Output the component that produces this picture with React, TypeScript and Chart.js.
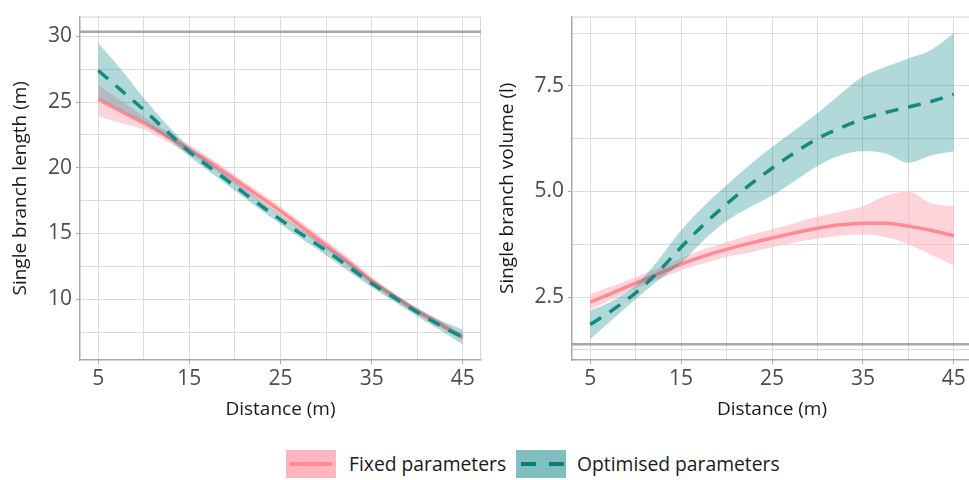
import React, { useEffect, useRef } from 'react';
import { Chart, registerables } from 'chart.js';
Chart.register(...registerables);

const FONT = "'Open Sans', 'DejaVu Sans', sans-serif";

// shared x positions (Distance, m)
const distance = [5, 7.5, 10, 12.5, 15, 17.5, 20, 22.5, 25, 27.5, 30, 32.5, 35, 37.5, 40, 42.5, 45];
const xGridValues = [5, 10, 15, 20, 25, 30, 35, 40, 45];
const xTickLabels = ['5', '15', '25', '35', '45'];

// Left panel: single branch length (m)
const lenFixed = [25.2, 24.3, 23.4, 22.4, 21.4, 20.3, 19.1, 17.9, 16.7, 15.4, 14.1, 12.8, 11.4, 10.2, 9.1, 8.1, 7.1];
const lenFixedLo = [23.9, 23.4, 22.9, 22.0, 21.05, 19.95, 18.75, 17.55, 16.35, 15.05, 13.75, 12.45, 11.1, 9.95, 8.85, 7.9, 6.9];
const lenFixedHi = [26.3, 25.1, 23.9, 22.8, 21.75, 20.65, 19.45, 18.25, 17.05, 15.75, 14.45, 13.15, 11.7, 10.45, 9.35, 8.35, 7.35];
const lenOpt = [27.4, 25.9, 24.4, 22.8, 21.2, 19.9, 18.6, 17.3, 16.05, 14.85, 13.7, 12.45, 11.2, 10.1, 9.0, 8.0, 7.1];
const lenOptLo = [25.3, 24.4, 23.5, 22.3, 20.85, 19.55, 18.25, 16.95, 15.7, 14.5, 13.35, 12.1, 10.9, 9.8, 8.7, 7.65, 6.55];
const lenOptHi = [29.5, 27.5, 25.3, 23.3, 21.55, 20.25, 18.95, 17.65, 16.4, 15.2, 14.05, 12.8, 11.5, 10.4, 9.3, 8.4, 7.7];
const lenRef = 30.35;
const lenGridValues = [7.5, 10, 12.5, 15, 17.5, 20, 22.5, 25, 27.5, 30];
const lenTickValues = [10, 15, 20, 25, 30];
const lenTickLabels = ['10', '15', '20', '25', '30'];

// Right panel: single branch volume (l)
const volFixed = [2.38, 2.6, 2.83, 3.05, 3.28, 3.47, 3.63, 3.77, 3.9, 4.02, 4.13, 4.21, 4.25, 4.25, 4.18, 4.08, 3.95];
const volFixedLo = [2.2, 2.45, 2.7, 2.92, 3.13, 3.3, 3.45, 3.55, 3.68, 3.8, 3.88, 3.95, 3.98, 3.92, 3.75, 3.5, 3.25];
const volFixedHi = [2.57, 2.76, 2.97, 3.18, 3.42, 3.63, 3.8, 3.97, 4.1, 4.25, 4.4, 4.52, 4.65, 4.9, 5.0, 4.72, 4.65];
const volOpt = [1.85, 2.2, 2.6, 3.1, 3.68, 4.22, 4.7, 5.15, 5.55, 5.92, 6.25, 6.5, 6.72, 6.87, 7.0, 7.13, 7.3];
const volOptLo = [1.5, 1.98, 2.45, 2.9, 3.3, 3.85, 4.3, 4.62, 4.9, 5.25, 5.6, 5.85, 5.95, 5.9, 5.68, 5.85, 5.95];
const volOptHi = [2.18, 2.42, 2.78, 3.38, 4.08, 4.65, 5.15, 5.62, 6.05, 6.45, 6.85, 7.3, 7.72, 7.95, 8.15, 8.35, 8.75];
const volRef = 1.38;
const volGridValues = [1.25, 2.5, 3.75, 5, 6.25, 7.5, 8.75];
const volTickValues = [2.5, 5, 7.5];
const volTickLabels = ['2.5', '5.0', '7.5'];

const seriesNames = ['Fixed parameters', 'Optimised parameters'];

const PINK_LINE = '#ff8a94';
const PINK_FILL = 'rgba(255,182,193,0.6)';
const TEAL_LINE = '#178884';
const TEAL_FILL = 'rgba(0,128,128,0.3)';
const AXIS = '#a8a8a8';
const GRID = '#dcdcdc';

const pts = (ys: number[]) => distance.map((d, i) => ({ x: d, y: ys[i] }));

type PanelProps = {
  left: number; width: number; yWidth: number; padRight: number; yTitlePad: number;
  yMin: number; yMax: number; xMin: number; xMax: number;
  yGrid: number[]; yTicks: number[]; yLabels: string[]; yTitle: string;
  fixed: number[]; fixedLo: number[]; fixedHi: number[];
  opt: number[]; optLo: number[]; optHi: number[]; refValue: number;
};

const frame = {
  id: 'frame',
  beforeDatasetsDraw(chart: any) {
    const { ctx, chartArea: a } = chart;
    ctx.save();
    ctx.strokeStyle = '#d4d4d4';
    ctx.lineWidth = 1;
    ctx.beginPath();
    ctx.moveTo(a.left, a.top + 0.5);
    ctx.lineTo(a.right - 0.5, a.top + 0.5);
    ctx.lineTo(a.right - 0.5, a.bottom);
    ctx.stroke();
    ctx.restore();
  },
};

function Panel(p: PanelProps) {
  const ref = useRef<HTMLCanvasElement>(null);
  useEffect(() => {
    if (!ref.current) return;
    const line = (data: number[], color: string, order: number, dash: number[] = []) => ({
      data: pts(data), borderColor: color, borderWidth: 3.5, borderDash: dash, pointRadius: 0,
      fill: false, cubicInterpolationMode: 'monotone', order,
    });
    const lower = (data: number[], order: number) => ({
      data: pts(data), borderWidth: 0, borderColor: 'transparent', pointRadius: 0, fill: false,
      cubicInterpolationMode: 'monotone', order,
    });
    const upper = (data: number[], color: string, order: number) => ({
      data: pts(data), borderWidth: 0, borderColor: 'transparent', backgroundColor: color, pointRadius: 0,
      fill: '-1', cubicInterpolationMode: 'monotone', order,
    });
    const chart = new Chart(ref.current, {
      type: 'line',
      data: {
        datasets: [
          lower(p.fixedLo, 6),
          upper(p.fixedHi, PINK_FILL, 6),
          line(p.fixed, PINK_LINE, 5),
          lower(p.optLo, 4),
          upper(p.optHi, TEAL_FILL, 4),
          line(p.opt, TEAL_LINE, 2, [13, 10]),
          {
            data: [{ x: p.xMin, y: p.refValue }, { x: p.xMax, y: p.refValue }],
            borderColor: AXIS, borderWidth: 2.5, pointRadius: 0, fill: false, order: 1,
          },
        ] as any,
      },
      options: {
        animation: false,
        responsive: false,
        maintainAspectRatio: false,
        layout: { padding: { top: 10, right: p.padRight, left: 0, bottom: 0 } },
        plugins: { legend: { display: false }, tooltip: { enabled: false } },
        scales: {
          x: {
            type: 'linear', min: p.xMin, max: p.xMax,
            afterBuildTicks: (s: any) => { s.ticks = xGridValues.map((v) => ({ value: v })); },
            afterFit: (s: any) => { s.height = 70; },
            ticks: {
              autoSkip: false, maxRotation: 0, padding: 2, color: '#4d4d4d',
              font: { family: FONT, size: 21 },
              callback: (v: any) => (xTickLabels.includes(String(v)) ? String(v) : ''),
            },
            grid: {
              color: GRID, lineWidth: 1, drawTicks: true, tickLength: 4,
              tickColor: (c: any) => (c.tick && xTickLabels.includes(String(c.tick.value)) ? AXIS : 'rgba(0,0,0,0)'),
            },
            border: { color: AXIS, width: 1.5 },
            title: { display: true, text: 'Distance (m)', color: '#1a1a1a', font: { family: FONT, size: 19 }, padding: { top: 0, bottom: 9 } },
          },
          y: {
            type: 'linear', min: p.yMin, max: p.yMax,
            afterBuildTicks: (s: any) => { s.ticks = p.yGrid.map((v) => ({ value: v })); },
            afterFit: (s: any) => { s.width = p.yWidth; },
            ticks: {
              autoSkip: false, padding: 4, color: '#4d4d4d',
              font: { family: FONT, size: 21 },
              callback: (v: any) => {
                const i = p.yTicks.indexOf(Number(v));
                return i >= 0 ? p.yLabels[i] : '';
              },
            },
            grid: {
              color: GRID, lineWidth: 1, drawTicks: true, tickLength: 4,
              tickColor: (c: any) => (c.tick && p.yTicks.includes(c.tick.value) ? AXIS : 'rgba(0,0,0,0)'),
            },
            border: { color: AXIS, width: 1.5 },
            title: { display: true, text: p.yTitle, color: '#1a1a1a', font: { family: FONT, size: 19 }, padding: { top: p.yTitlePad, bottom: 0 } },
          },
        },
      } as any,
      plugins: [frame],
    });
    return () => chart.destroy();
  }, []);
  return (
    <canvas
      ref={ref}
      width={p.width}
      height={430}
      style={{ position: 'absolute', left: p.left, top: 0, width: p.width, height: 430 }}
    />
  );
}

export default function App() {
  const legendText: React.CSSProperties = {
    position: 'absolute', top: 450, height: 28, lineHeight: '28px',
    fontFamily: FONT, fontSize: 19.3, color: '#1a1a1a', whiteSpace: 'nowrap',
  };
  return (
    <div style={{ position: 'fixed', left: 0, top: 0, width: 969, height: 480, overflow: 'hidden', background: '#fff' }}>
      <Panel
        left={0} width={490} yWidth={80} padRight={9} yTitlePad={9}
        xMin={3} xMax={47} yMin={5.37} yMax={31.5}
        yGrid={lenGridValues} yTicks={lenTickValues} yLabels={lenTickLabels}
        yTitle="Single branch length (m)"
        fixed={lenFixed} fixedLo={lenFixedLo} fixedHi={lenFixedHi}
        opt={lenOpt} optLo={lenOptLo} optHi={lenOptHi} refValue={lenRef}
      />
      <Panel
        left={490} width={482} yWidth={82} padRight={0} yTitlePad={6}
        xMin={3} xMax={47} yMin={1.01} yMax={9.14}
        yGrid={volGridValues} yTicks={volTickValues} yLabels={volTickLabels}
        yTitle="Single branch volume (l)"
        fixed={volFixed} fixedLo={volFixedLo} fixedHi={volFixedHi}
        opt={volOpt} optLo={volOptLo} optHi={volOptHi} refValue={volRef}
      />
      <div style={{ position: 'absolute', left: 286, top: 450, width: 50, height: 28, background: '#ffb6c1' }}>
        <div style={{ position: 'absolute', left: 4, top: 12, width: 42, height: 4, background: PINK_LINE }} />
      </div>
      <div style={{ ...legendText, left: 349 }}>{seriesNames[0]}</div>
      <div style={{ position: 'absolute', left: 516, top: 450, width: 50, height: 28, background: '#80bfbf' }}>
        <div style={{ position: 'absolute', left: 5, top: 12, width: 15, height: 4, background: '#0e7d7a' }} />
        <div style={{ position: 'absolute', left: 33, top: 12, width: 15, height: 4, background: '#0e7d7a' }} />
      </div>
      <div style={{ ...legendText, left: 577 }}>{seriesNames[1]}</div>
    </div>
  );
}
